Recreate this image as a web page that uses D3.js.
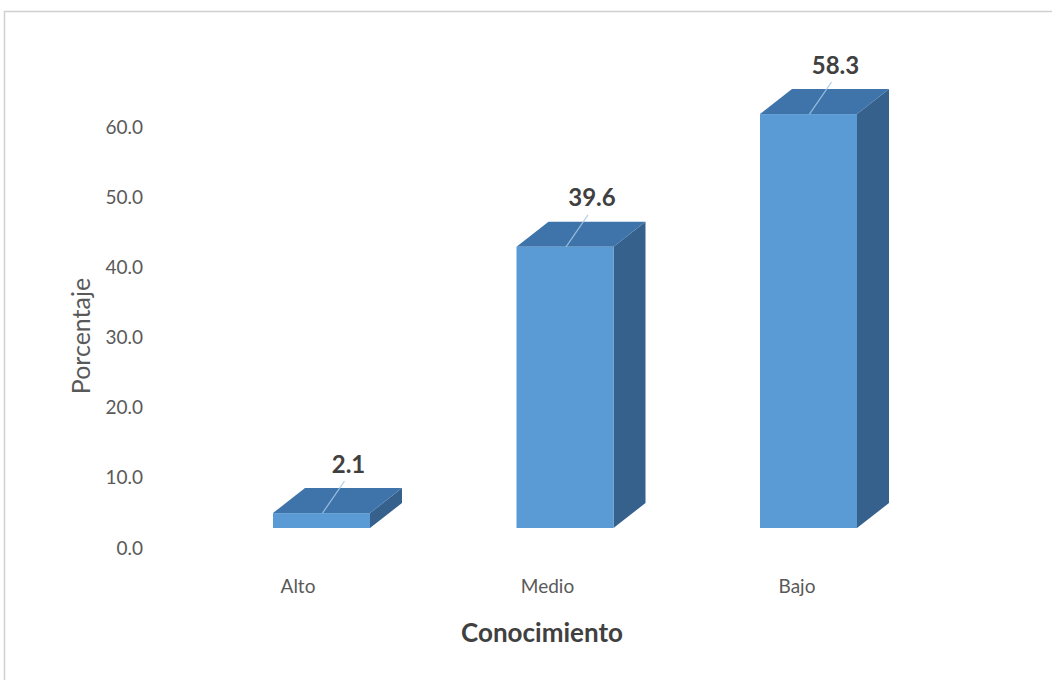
<!DOCTYPE html>
<html>
<head>
<meta charset="utf-8">
<script src="https://cdn.jsdelivr.net/npm/d3@7"></script>
<style>
  html, body { margin: 0; padding: 0; background: #fff; }
  svg { display: block; }
  text { font-family: Lato, "Open Sans", sans-serif; }
</style>
</head>
<body>
<svg id="chart" width="1052" height="680"></svg>
<script>
const categories = ["Alto", "Medio", "Bajo"];
const values = [2.1, 39.6, 58.3];
const tickValues = [0, 10, 20, 30, 40, 50, 60];
const xTitle = "Conocimiento";
const yTitle = "Porcentaje";

const svg = d3.select("#chart");

// chart frame
svg.append("path")
  .attr("d", "M4.5,700 V11.5 H1060")
  .attr("fill", "none").attr("stroke", "#d0d0d0").attr("stroke-width", 1.5);

// scales
const yAxis = d3.scaleLinear().domain([0, 60]).range([548, 127]);
const yBar = d3.scaleLinear().domain([0, 60]).range([528, 102]);
const xBar = d3.scalePoint().domain(categories).range([321.5, 808.5]);
const xLab = d3.scalePoint().domain(categories).range([298, 797]);
const barW = 97, depthX = 32, depthY = -25;

// y axis labels (no line)
const ax = svg.append("g").attr("transform", "translate(143,0)")
  .call(d3.axisLeft(yAxis).tickValues(tickValues).tickFormat(d3.format(".1f")).tickSize(0).tickPadding(0));
ax.select(".domain").remove();
ax.selectAll("text").attr("font-family", "Lato, sans-serif").attr("font-size", 19).attr("fill", "#595959");

// bars
const data = categories.map((c, i) => ({ c, v: values[i] }));
const g = svg.append("g");
data.forEach(d => {
  const x0 = xBar(d.c) - barW / 2, x1 = x0 + barW;
  const yt = yBar(d.v), yb = yBar(0);
  g.append("path")
    .attr("d", `M${x1},${yt} L${x1 + depthX},${yt + depthY} L${x1 + depthX},${yb + depthY} L${x1},${yb} Z`)
    .attr("fill", "#36618d");
  g.append("path")
    .attr("d", `M${x0},${yt} L${x0 + depthX},${yt + depthY} L${x1 + depthX},${yt + depthY} L${x1},${yt} Z`)
    .attr("fill", "#3e74aa");
  g.append("rect")
    .attr("x", x0).attr("y", yt).attr("width", barW).attr("height", yb - yt)
    .attr("fill", "#5b9bd5");
  const cx = xBar(d.c);
  g.append("line")
    .attr("x1", cx + 1).attr("y1", yt)
    .attr("x2", cx + 23).attr("y2", yt - 32)
    .attr("stroke", "#a9c8e6").attr("stroke-width", 1.2).attr("opacity", 0.85);
  g.append("text")
    .attr("x", cx + 27).attr("y", yt - 50)
    .attr("text-anchor", "middle").attr("dominant-baseline", "central")
    .attr("font-size", 24).attr("font-weight", "bold").attr("fill", "#404040")
    .text(d3.format(".1f")(d.v));
});

// category labels
svg.append("g").selectAll("text").data(categories).join("text")
  .attr("x", d => xLab(d)).attr("y", 585)
  .attr("text-anchor", "middle").attr("dominant-baseline", "central")
  .attr("font-size", 19).attr("fill", "#595959")
  .text(d => d);

// axis titles
svg.append("text")
  .attr("x", 542).attr("y", 632)
  .attr("text-anchor", "middle").attr("dominant-baseline", "central")
  .attr("font-size", 26).attr("font-weight", "bold").attr("fill", "#404040")
  .text(xTitle);

svg.append("text")
  .attr("transform", "translate(80,336) rotate(-90)")
  .attr("text-anchor", "middle").attr("dominant-baseline", "central")
  .attr("font-size", 25).attr("fill", "#595959")
  .text(yTitle);
</script>
</body>
</html>
